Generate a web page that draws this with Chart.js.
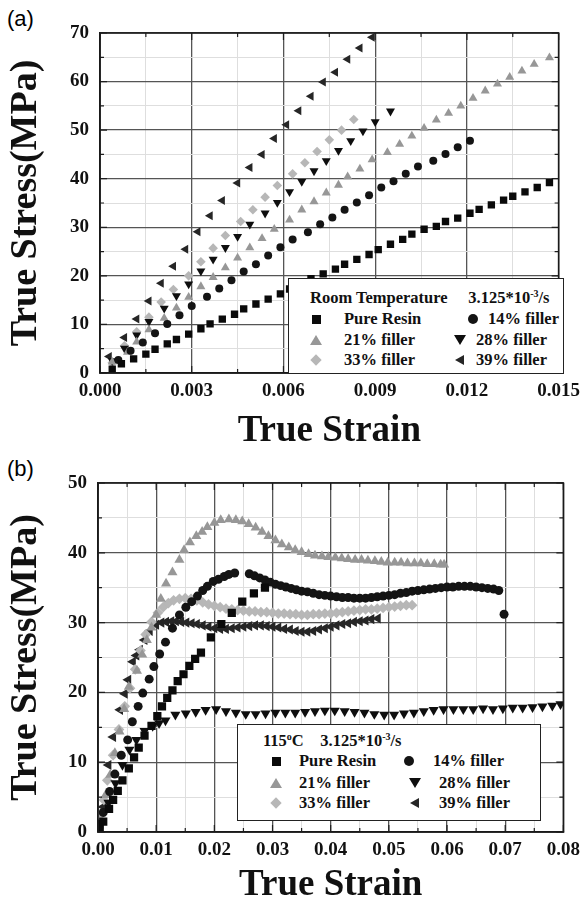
<!DOCTYPE html>
<html>
<head>
<meta charset="utf-8">
<script src="https://cdn.jsdelivr.net/npm/chart.js@4.4.0/dist/chart.umd.min.js"></script>
<style>
  html, body { margin: 0; padding: 0; background: #fff; overflow: hidden; }
  #page { position: relative; width: 587px; height: 905px; overflow: hidden; }
  canvas { position: absolute; left: 0; }
  .tag { position: absolute; left: 7px; font: 22px "Liberation Sans", Arial, sans-serif; line-height: 1; }
  .legend { position: absolute; background: #fff; border: 1.5px solid #222; box-sizing: border-box;
            font: bold 16.5px "Liberation Serif", "Times New Roman", serif; color: #111; }
  .legend .t { position: absolute; white-space: nowrap; line-height: 16px; transform: translateY(-50%); }
  .legend sup { font-size: 10px; vertical-align: 6px; line-height: 0; }
  .sym { position: absolute; width: 0; height: 0; }
</style>
</head>
<body>
<div id="page">
  <div class="tag" style="top:8px">(a)</div>
  <div class="tag" style="top:458px">(b)</div>
  <canvas id="chartA" width="587" height="460" style="top:0"></canvas>
  <canvas id="chartB" width="587" height="470" style="top:450px"></canvas>
  <div id="legendA" class="legend" style="left:288px; top:278px; width:276px; height:96px"></div>
  <div id="legendB" class="legend" style="left:237px; top:724px; width:304px; height:97px"></div>
</div>
<script>
// series names
const seriesNames = ['Pure Resin', '14% filler', '21% filler', '28% filler', '33% filler', '39% filler'];

// (a) room temperature, [strain, stress MPa]
const pureA = [[0.0004,0.8],[0.0007,1.9],[0.0011,2.9],[0.0015,3.9],[0.0018,4.9],[0.0022,6.0],[0.0025,6.9],[0.0029,8.0],
  [0.0033,9.1],[0.0036,10.1],[0.0040,11.1],[0.0044,12.1],[0.0047,13.2],[0.0051,14.2],[0.0055,15.2],[0.0059,16.3],
  [0.0062,17.3],[0.0066,18.3],[0.0069,19.4],[0.0073,20.4],[0.0077,21.4],[0.0080,22.4],[0.0084,23.4],[0.0088,24.4],
  [0.0091,25.4],[0.0095,26.5],[0.0099,27.5],[0.0102,28.6],[0.0106,29.6],[0.0110,30.2],[0.0113,31.2],[0.0117,31.9],
  [0.0121,32.9],[0.0124,33.7],[0.0128,34.6],[0.0132,35.6],[0.0135,36.4],[0.0139,37.3],[0.0143,38.2],[0.0147,39.2]];
const f14A = [[0.0006,2.7],[0.0010,4.6],[0.0014,6.3],[0.0018,8.2],[0.0022,10.1],[0.0026,11.9],[0.0030,13.8],[0.0035,15.7],
  [0.0039,17.4],[0.0043,19.1],[0.0047,20.9],[0.0051,22.4],[0.0055,24.2],[0.0059,25.9],[0.0063,27.5],[0.0068,29.0],
  [0.0072,30.6],[0.0076,32.0],[0.0080,33.6],[0.0084,35.1],[0.0088,36.6],[0.0092,38.2],[0.0096,39.5],[0.0100,41.0],
  [0.0104,42.5],[0.0109,43.7],[0.0113,45.1],[0.0117,46.5],[0.0121,47.8]];
const f21A = [[0.0004,2.3],[0.0009,4.3],[0.0012,6.4],[0.0016,8.9],[0.0021,11.3],[0.0025,13.4],[0.0029,15.6],[0.0033,17.8],
  [0.0037,19.7],[0.0041,21.7],[0.0045,23.7],[0.0049,25.8],[0.0053,27.7],[0.0057,29.6],[0.0062,31.5],[0.0066,33.6],
  [0.0070,35.3],[0.0074,37.1],[0.0078,38.7],[0.0081,40.4],[0.0085,42.0],[0.0089,43.9],[0.0094,45.4],[0.0098,47.1],
  [0.0102,48.8],[0.0106,50.4],[0.0110,52.1],[0.0114,53.5],[0.0118,55.0],[0.0122,56.6],[0.0126,58.1],[0.0130,59.5],
  [0.0134,60.9],[0.0138,62.2],[0.0142,63.6],[0.0147,64.9]];
const f28A = [[0.0004,2.5],[0.0008,5.1],[0.0012,7.8],[0.0016,10.6],[0.0021,13.3],[0.0025,15.9],[0.0029,18.3],[0.0033,21.0],
  [0.0037,23.4],[0.0041,25.8],[0.0045,28.1],[0.0049,30.6],[0.0054,32.9],[0.0058,35.1],[0.0062,37.3],[0.0066,39.4],
  [0.0070,41.6],[0.0074,43.7],[0.0078,45.8],[0.0082,47.8],[0.0086,49.8],[0.0090,51.7],[0.0095,53.9]];
const f33A = [[0.0004,2.1],[0.0008,5.6],[0.0012,8.5],[0.0016,11.5],[0.0020,14.6],[0.0024,17.2],[0.0029,20.0],[0.0033,22.9],
  [0.0037,25.7],[0.0041,28.3],[0.0046,31.2],[0.0050,33.6],[0.0054,36.2],[0.0058,38.6],[0.0063,41.0],[0.0067,43.3],
  [0.0071,45.6],[0.0075,48.0],[0.0079,50.0],[0.0083,52.2]];
const f39A = [[0.0003,3.4],[0.0008,7.3],[0.0012,11.1],[0.0016,14.8],[0.0020,18.5],[0.0024,22.0],[0.0028,25.5],[0.0032,29.1],
  [0.0036,32.4],[0.0040,35.5],[0.0045,39.1],[0.0049,42.3],[0.0053,45.0],[0.0057,48.3],[0.0061,51.1],[0.0065,54.0],
  [0.0069,57.0],[0.0073,59.9],[0.0077,61.9],[0.0081,64.6],[0.0085,66.9],[0.0089,69.1]];

// (b) 115 C, [strain, stress MPa]
const pureB = [[0.0003,0.4],[0.0009,1.5],[0.0019,3.3],[0.0026,4.6],[0.0034,5.9],[0.0042,7.4],[0.0053,9.1],[0.0062,10.7],
  [0.0070,12.1],[0.0080,13.8],[0.0092,15.2],[0.0102,16.6],[0.0110,18.0],[0.0119,19.2],[0.0128,20.3],[0.0137,21.6],
  [0.0147,22.6],[0.0157,23.8],[0.0167,24.8],[0.0177,25.7],[0.0194,27.9],[0.0212,29.8],[0.0230,31.4],[0.0248,33.0],
  [0.0268,34.2],[0.0287,35.0]];
const f14B = [[0.0009,2.8],[0.0020,5.8],[0.0029,8.3],[0.0040,11.0],[0.0051,13.2],[0.0059,15.8],[0.0069,18.0],[0.0077,19.9],
  [0.0088,21.9],[0.0096,23.7],[0.0106,25.5],[0.0116,27.2],[0.0128,29.2],[0.0140,31.1],[0.0151,32.2],[0.0161,33.0],
  [0.0171,33.8],[0.0180,34.6],[0.0188,35.2],[0.0198,35.9],[0.0207,36.2],[0.0217,36.6],[0.0225,36.9],[0.0235,37.1],
  [0.0260,37.0],[0.0269,36.7],[0.0278,36.4],[0.0287,36.1],[0.0296,35.8],[0.0305,35.5],[0.0314,35.3],[0.0323,35.1],
  [0.0332,34.9],[0.0341,34.7],[0.0350,34.5],[0.0360,34.4],[0.0370,34.2],[0.0380,34.0],[0.0390,33.9],[0.0400,33.8],
  [0.0410,33.7],[0.0420,33.6],[0.0430,33.6],[0.0440,33.5],[0.0450,33.5],[0.0460,33.5],[0.0470,33.6],[0.0480,33.7],
  [0.0490,33.8],[0.0500,33.9],[0.0510,34.0],[0.0520,34.2],[0.0530,34.3],[0.0540,34.5],[0.0550,34.6],[0.0560,34.7],
  [0.0570,34.8],[0.0580,34.9],[0.0590,35.0],[0.0600,35.1],[0.0610,35.1],[0.0620,35.2],[0.0630,35.2],[0.0640,35.2],
  [0.0650,35.1],[0.0660,35.0],[0.0670,34.9],[0.0680,34.8],[0.0689,34.6],[0.0698,31.2]];
const f21B = [[0.0005,2.6],[0.0013,5.3],[0.0021,8.2],[0.0029,11.3],[0.0037,14.4],[0.0045,17.6],[0.0053,20.8],[0.0067,23.1],
  [0.0076,25.4],[0.0084,27.5],[0.0092,29.3],[0.0100,31.1],[0.0108,33.4],[0.0117,35.6],[0.0128,37.2],[0.0140,39.0],
  [0.0148,40.4],[0.0158,41.5],[0.0169,42.4],[0.0179,43.0],[0.0188,43.7],[0.0200,44.3],[0.0211,44.7],[0.0225,44.8],
  [0.0237,44.7],[0.0248,44.5],[0.0259,44.1],[0.0271,43.6],[0.0282,43.0],[0.0293,42.4],[0.0305,41.8],[0.0316,41.2],
  [0.0328,40.8],[0.0339,40.4],[0.0350,40.1],[0.0362,39.8],[0.0373,39.6],[0.0385,39.5],[0.0396,39.4],[0.0408,39.3],
  [0.0419,39.2],[0.0430,39.1],[0.0442,39.0],[0.0453,39.0],[0.0464,38.9],[0.0476,38.8],[0.0487,38.7],[0.0498,38.6],
  [0.0510,38.6],[0.0521,38.6],[0.0532,38.5],[0.0544,38.5],[0.0555,38.5],[0.0566,38.4],[0.0578,38.4],[0.0589,38.3],
  [0.0595,38.3]];
const f28B = [[0.0005,1.3],[0.0018,4.2],[0.0030,7.0],[0.0042,9.6],[0.0054,11.8],[0.0066,13.2],[0.0080,14.5],[0.0094,15.2],
  [0.0105,15.6],[0.0116,16.0],[0.0133,16.8],[0.0151,17.0],[0.0168,17.2],[0.0185,17.5],[0.0203,17.6],[0.0220,17.3],
  [0.0237,17.1],[0.0254,16.9],[0.0271,16.9],[0.0288,17.0],[0.0305,17.1],[0.0322,17.1],[0.0339,17.1],[0.0356,17.2],
  [0.0373,17.3],[0.0390,17.4],[0.0407,17.4],[0.0424,17.3],[0.0441,17.2],[0.0458,17.1],[0.0475,16.9],[0.0492,16.8],
  [0.0509,16.8],[0.0526,17.0],[0.0543,17.1],[0.0560,17.3],[0.0577,17.5],[0.0594,17.6],[0.0611,17.6],[0.0628,17.6],
  [0.0645,17.6],[0.0662,17.7],[0.0679,17.6],[0.0696,17.7],[0.0713,17.8],[0.0730,17.8],[0.0747,17.9],[0.0764,18.0],
  [0.0781,18.1],[0.0795,18.3]];
const f33B = [[0.0004,2.4],[0.0010,4.6],[0.0016,7.4],[0.0026,11.0],[0.0036,14.7],[0.0046,18.0],[0.0055,20.6],[0.0064,23.3],
  [0.0073,26.0],[0.0082,28.3],[0.0092,30.1],[0.0103,31.4],[0.0112,32.2],[0.0121,32.8],[0.0130,33.2],[0.0140,33.4],
  [0.0150,33.5],[0.0160,33.4],[0.0170,33.2],[0.0180,32.9],[0.0190,32.6],[0.0200,32.4],[0.0210,32.2],[0.0220,32.0],
  [0.0230,31.9],[0.0240,31.8],[0.0250,31.7],[0.0260,31.6],[0.0270,31.6],[0.0280,31.5],[0.0290,31.5],[0.0300,31.4],
  [0.0310,31.3],[0.0320,31.3],[0.0330,31.2],[0.0340,31.2],[0.0350,31.1],[0.0360,31.1],[0.0370,31.2],[0.0380,31.2],
  [0.0390,31.3],[0.0400,31.3],[0.0410,31.4],[0.0420,31.5],[0.0430,31.6],[0.0440,31.7],[0.0450,31.8],[0.0460,31.9],
  [0.0470,31.9],[0.0480,32.0],[0.0490,32.1],[0.0500,32.2],[0.0510,32.3],[0.0520,32.4],[0.0530,32.5],[0.0540,32.5]];
const f39B = [[0.0004,1.2],[0.0009,3.6],[0.0018,9.6],[0.0026,13.6],[0.0038,17.5],[0.0046,19.8],[0.0052,21.8],[0.0060,24.4],
  [0.0066,25.3],[0.0072,26.1],[0.0080,27.5],[0.0089,28.8],[0.0100,29.7],[0.0109,30.0],[0.0117,30.1],[0.0126,30.2],
  [0.0134,30.2],[0.0143,30.1],[0.0152,30.0],[0.0161,29.9],[0.0170,29.8],[0.0180,29.6],[0.0190,29.4],[0.0200,29.2],
  [0.0210,29.1],[0.0220,29.1],[0.0230,29.2],[0.0240,29.3],[0.0250,29.4],[0.0260,29.5],[0.0270,29.6],[0.0280,29.6],
  [0.0290,29.5],[0.0300,29.4],[0.0310,29.3],[0.0320,29.1],[0.0330,29.0],[0.0340,28.8],[0.0350,28.7],[0.0360,28.7],
  [0.0370,28.8],[0.0380,29.0],[0.0390,29.2],[0.0400,29.4],[0.0410,29.6],[0.0420,29.8],[0.0430,29.9],[0.0440,30.1],
  [0.0450,30.2],[0.0460,30.3],[0.0470,30.5],[0.0481,30.6]];

const seriesA = [pureA, f14A, f21A, f28A, f33A, f39A];
const seriesB = [pureB, f14B, f21B, f28B, f33B, f39B];

// marker look per series
const markers = [
  { style: 'rect',     rot: 0,   color: '#0a0a0a', r: 5.2 },
  { style: 'circle',   rot: 0,   color: '#141414', r: 4.0 },
  { style: 'triangle', rot: 0,   color: '#979797', r: 5.2 },
  { style: 'triangle', rot: 180, color: '#0e0e0e', r: 5.2 },
  { style: 'rectRot',  rot: 0,   color: '#b7b7b7', r: 4.8 },
  { style: 'triangle', rot: -90, color: '#262626', r: 5.2 }
];

const serif = '"Liberation Serif", "Times New Roman", serif';

function isMajor(v, major) {
  const q = v / major;
  return Math.abs(q - Math.round(q)) < 1e-6;
}

// box round the plot plus short inward ticks on all four sides
const framePlugin = {
  id: 'frame',
  afterDraw(chart) {
    const { ctx, chartArea: a, scales } = chart;
    ctx.save();
    ctx.strokeStyle = '#1e1e1e';
    ctx.lineWidth = 1.2;
    scales.x.ticks.forEach(t => {
      const px = scales.x.getPixelForValue(t.value);
      const len = t.label ? 7 : 4;
      ctx.beginPath();
      ctx.moveTo(px, a.bottom); ctx.lineTo(px, a.bottom - len);
      ctx.moveTo(px, a.top); ctx.lineTo(px, a.top + len);
      ctx.stroke();
    });
    scales.y.ticks.forEach(t => {
      const py = scales.y.getPixelForValue(t.value);
      const len = t.label ? 7 : 4;
      ctx.beginPath();
      ctx.moveTo(a.left, py); ctx.lineTo(a.left + len, py);
      ctx.moveTo(a.right, py); ctx.lineTo(a.right - len, py);
      ctx.stroke();
    });
    ctx.lineWidth = 1.6;
    ctx.strokeStyle = '#1a1a1a';
    ctx.strokeRect(a.left, a.top, a.right - a.left, a.bottom - a.top);
    ctx.restore();
  }
};

function makeChart(id, series, o) {
  const datasets = series.map((pts, i) => ({
    label: seriesNames[i],
    data: pts.map(p => ({ x: p[0], y: p[1] })),
    showLine: false,
    pointStyle: markers[i].style,
    pointRotation: markers[i].rot,
    pointRadius: markers[i].r * o.markerScale,
    backgroundColor: markers[i].color,
    borderColor: markers[i].color,
    borderWidth: 0
  }));
  const gridColor = major => c => (c.tick && isMajor(c.tick.value, major)) ? '#555' : '#dedede';
  const gridWidth = major => c => (c.tick && isMajor(c.tick.value, major)) ? 1.3 : 1;
  return new Chart(document.getElementById(id), {
    type: 'scatter',
    data: { datasets },
    plugins: [framePlugin],
    options: {
      responsive: false,
      animation: false,
      devicePixelRatio: 1,
      events: [],
      layout: { padding: { left: 0, right: o.padRight, top: o.padTop, bottom: 0 } },
      plugins: { legend: { display: false }, tooltip: { enabled: false } },
      scales: {
        x: {
          type: 'linear', min: 0, max: o.xMax,
          afterFit: s => { s.height = o.xHeight; },
          border: { color: '#1a1a1a', width: 1.6 },
          grid: { color: gridColor(o.xMajor), lineWidth: gridWidth(o.xMajor), drawTicks: false },
          ticks: {
            stepSize: o.xStep, autoSkip: false, maxRotation: 0, padding: 7, color: '#111',
            font: { family: serif, size: 19, weight: 'bold' },
            callback: v => isMajor(v, o.xMajor) ? v.toFixed(o.xDigits) : ''
          },
          title: { display: true, text: 'True Strain', color: '#111',
                   font: { family: serif, size: 37, weight: 'bold' }, padding: { top: 0, bottom: o.xTitlePad } }
        },
        y: {
          type: 'linear', min: 0, max: o.yMax,
          afterFit: s => { s.width = o.yWidth; },
          border: { color: '#1a1a1a', width: 1.6 },
          grid: { color: gridColor(10), lineWidth: gridWidth(10), drawTicks: false },
          ticks: {
            stepSize: 5, autoSkip: false, padding: 11, color: '#111',
            font: { family: serif, size: 19, weight: 'bold' },
            callback: v => isMajor(v, 10) ? String(v) : ''
          },
          title: { display: true, text: 'True Stress(MPa)', color: '#111',
                   font: { family: serif, size: 38, weight: 'bold' }, padding: { top: 3, bottom: 0 } }
        }
      }
    }
  });
}

makeChart('chartA', seriesA, { xMax: 0.015, xStep: 0.0015, xMajor: 0.003, xDigits: 3, yMax: 70,
  padTop: 33, padRight: 24, yWidth: 100, xHeight: 87, xTitlePad: 6, markerScale: 1 });
makeChart('chartB', seriesB, { xMax: 0.08, xStep: 0.005, xMajor: 0.01, xDigits: 2, yMax: 50,
  padTop: 33, padRight: 20, yWidth: 98, xHeight: 88, xTitlePad: 12, markerScale: 1.12 });

// legends drawn as HTML boxes inside the plots
function symbol(kind, color) {
  const el = document.createElement('div');
  el.className = 'sym';
  if (kind === 'rect') {
    Object.assign(el.style, { width: '9px', height: '9px', background: color, marginLeft: '-4.5px', marginTop: '-4.5px' });
  } else if (kind === 'circle') {
    Object.assign(el.style, { width: '10px', height: '10px', background: color, borderRadius: '50%', marginLeft: '-5px', marginTop: '-5px' });
  } else if (kind === 'up') {
    Object.assign(el.style, { borderLeft: '6px solid transparent', borderRight: '6px solid transparent',
      borderBottom: '10px solid ' + color, marginLeft: '-6px', marginTop: '-5px' });
  } else if (kind === 'down') {
    Object.assign(el.style, { borderLeft: '6px solid transparent', borderRight: '6px solid transparent',
      borderTop: '10px solid ' + color, marginLeft: '-6px', marginTop: '-5px' });
  } else if (kind === 'diamond') {
    Object.assign(el.style, { width: '8px', height: '8px', background: color, transform: 'rotate(45deg)', marginLeft: '-4px', marginTop: '-4px' });
  } else if (kind === 'left') {
    Object.assign(el.style, { borderTop: '5.5px solid transparent', borderBottom: '5.5px solid transparent',
      borderRight: '9px solid ' + color, marginLeft: '-5px', marginTop: '-5.5px' });
  }
  return el;
}

const legendKinds = ['rect', 'circle', 'up', 'down', 'diamond', 'left'];

function buildLegend(id, title, lay) {
  const box = document.getElementById(id);
  const t = document.createElement('div');
  t.className = 't';
  t.innerHTML = title;
  t.style.left = lay.titleX + 'px';
  t.style.top = lay.titleY + 'px';
  box.appendChild(t);
  seriesNames.forEach((name, i) => {
    const row = Math.floor(i / 2), col = i % 2;
    const y = lay.rows[row];
    const s = symbol(legendKinds[i], markers[i].color);
    s.style.left = (col === 0 ? lay.sym1 : lay.sym2[row]) + 'px';
    s.style.top = y + 'px';
    box.appendChild(s);
    const tx = document.createElement('div');
    tx.className = 't';
    tx.textContent = name;
    tx.style.left = (col === 0 ? lay.txt1 : lay.txt2[row]) + 'px';
    tx.style.top = y + 'px';
    box.appendChild(tx);
  });
}

buildLegend('legendA', 'Room Temperature&nbsp;&nbsp;&nbsp;&nbsp;&nbsp;3.125*10<sup>-3</sup>/s',
  { titleX: 21, titleY: 19, rows: [40, 61, 81], sym1: 27, txt1: 55, sym2: [184, 171, 171], txt2: [199, 187, 187] });
buildLegend('legendB', '115<sup>o</sup>C&nbsp;&nbsp;&nbsp;&nbsp;3.125*10<sup>-3</sup>/s',
  { titleX: 25, titleY: 16, rows: [36, 58, 78], sym1: 38, txt1: 61, sym2: [171, 177, 177], txt2: [195, 201, 201] });
</script>
</body>
</html>
